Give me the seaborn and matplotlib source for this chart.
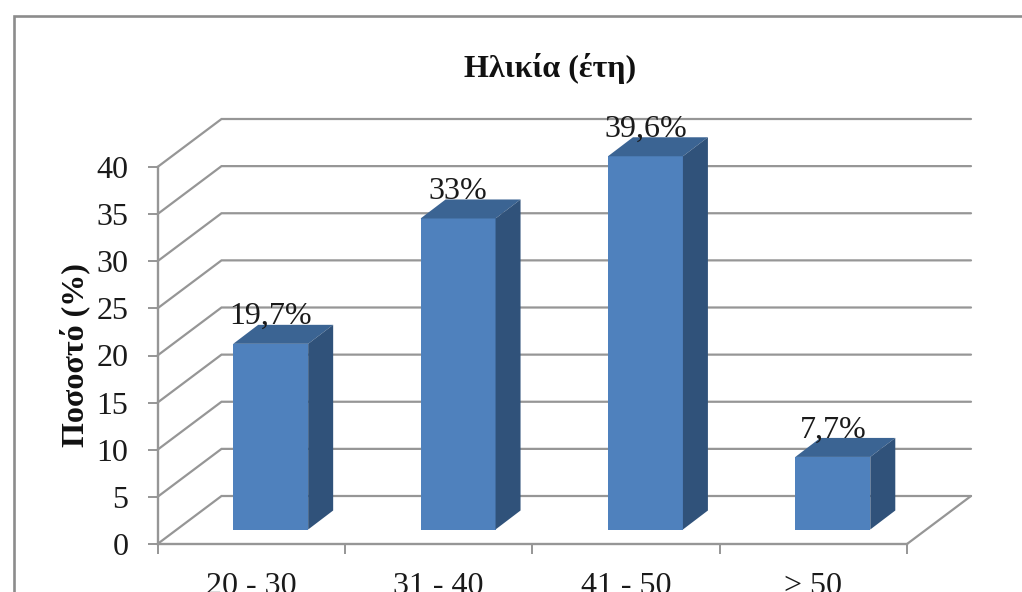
import matplotlib
matplotlib.use("Agg")
import matplotlib.pyplot as plt
import seaborn as sns
from matplotlib.lines import Line2D
from matplotlib.patches import Polygon

# Values
age_groups = ["20 - 30", "31 - 40", "41 - 50", "> 50"]
percent = [19.7, 33, 39.6, 7.7]
percent_labels = ["19,7%", "33%", "39,6%", "7,7%"]
y_ticks = [0, 5, 10, 15, 20, 25, 30, 35, 40]

sns.set_theme(style="white")
plt.rcParams["font.family"] = ["Liberation Serif", "DejaVu Serif"]

W, H = 1022, 592
fig = plt.figure(figsize=(W / 100, H / 100), dpi=100)
left, right, bottom, top = 157.5, 907, 544, 167
ax = fig.add_axes([left / W, 1 - bottom / H, (right - left) / W, (bottom - top) / H])

# pixels to data units, for the fake 3D depth
xu = (right - left) / len(age_groups)
yu = (bottom - top) / max(y_ticks)
wall_dx, wall_dy = 64 / xu, 48 / yu
front_dx, front_dy = 19.5 / xu, 14.5 / yu
side_dx, side_dy = 25 / xu, 19 / yu

sns.barplot(x=age_groups, y=percent, color="#4F81BD", saturation=1, width=0.4, linewidth=0, ax=ax, zorder=3)
ax.set_xlim(-0.5, len(age_groups) - 0.5)
ax.set_ylim(0, max(y_ticks))

# walls and floor
grid = "#969696"
text_color = "#1A1A1A"
x0, x1 = ax.get_xlim()
for v in y_ticks:
    ax.plot([x0, x0 + wall_dx, x1 + wall_dx], [v, v + wall_dy, v + wall_dy],
            color=grid, lw=1.6, clip_on=False, zorder=1, solid_joinstyle="miter")
ax.plot([x1, x1 + wall_dx], [0, wall_dy], color=grid, lw=1.6, clip_on=False, zorder=1)

# move bars onto the floor, add top and side faces
for bar, value, label in zip(ax.patches, percent, percent_labels):
    bar.set_x(bar.get_x() + front_dx)
    bar.set_y(front_dy)
    bar.set_clip_on(False)
    bx0 = bar.get_x()
    bx1 = bx0 + bar.get_width()
    by0 = front_dy
    by1 = front_dy + value
    ax.add_patch(Polygon([(bx0, by1), (bx1, by1), (bx1 + side_dx, by1 + side_dy), (bx0 + side_dx, by1 + side_dy)],
                         facecolor="#3B6493", edgecolor="none", clip_on=False, zorder=3))
    ax.add_patch(Polygon([(bx1, by0), (bx1 + side_dx, by0 + side_dy), (bx1 + side_dx, by1 + side_dy), (bx1, by1)],
                         facecolor="#30527A", edgecolor="none", clip_on=False, zorder=3))
    ax.text((bx0 + bx1) / 2, by1 + 19.5 / yu, label, ha="center", va="baseline",
            fontsize=23, color=text_color, zorder=5, clip_on=False)

sns.despine(ax=ax)
for side in ["left", "bottom"]:
    ax.spines[side].set_color(grid)
    ax.spines[side].set_linewidth(1.7)
    ax.spines[side].set_zorder(2)

ax.set_yticks(y_ticks)
ax.tick_params(axis="y", left=True, length=7, width=1.4, color=grid, labelsize=23, pad=14, labelcolor=text_color)
ax.set_xticks(range(len(age_groups)))
ax.set_xticklabels(age_groups)
ax.set_xticks([i - 0.5 for i in range(len(age_groups) + 1)], minor=True)
ax.tick_params(axis="x", which="major", bottom=False, length=0, labelsize=23, pad=20, labelcolor=text_color)
ax.tick_params(axis="x", which="minor", bottom=True, length=7, width=1.4, color=grid)

ax.set_xlabel("")
fig.text(75 / W, 1 - 355 / H, "Ποσοστό (%)", rotation=90, ha="center", va="center",
         fontsize=23, fontweight="bold", color="#111111")
fig.text(550 / W, 1 - 68 / H, "Ηλικία (έτη)", ha="center", va="center",
         fontsize=23, fontweight="bold", color="#111111")

# chart frame runs off the left, top and right of the crop only partly
frame_x, frame_y = 14 / W, 1 - 16 / H
fig.add_artist(Line2D([frame_x, frame_x, 1], [0, frame_y, frame_y], transform=fig.transFigure,
                      color="#8C8C8C", lw=1.9, solid_joinstyle="miter"))

fig.savefig("out.png", dpi=100)
